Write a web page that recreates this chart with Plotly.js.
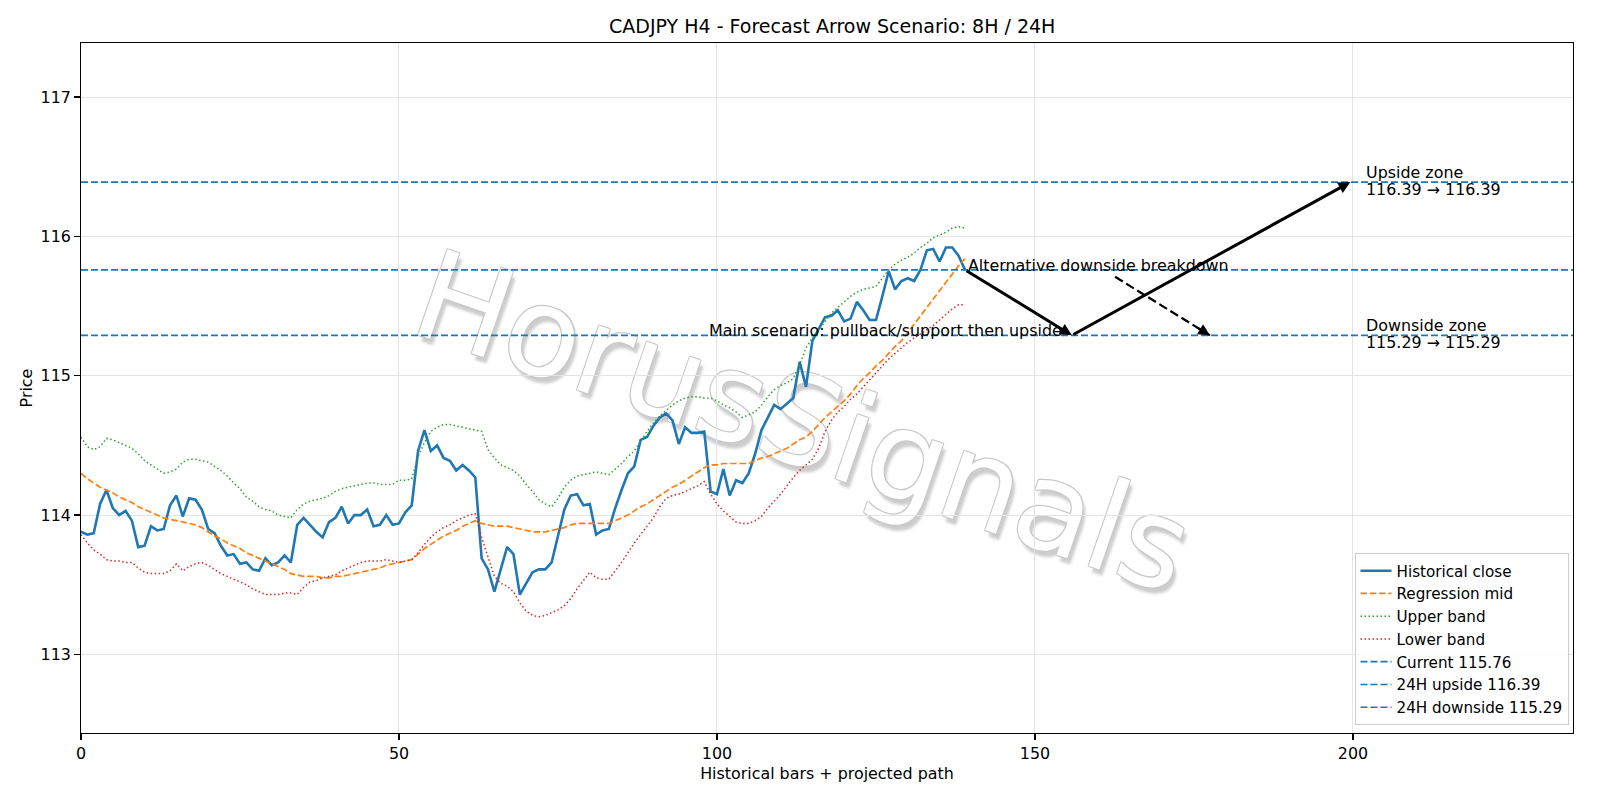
<!DOCTYPE html>
<html>
<head>
<meta charset="utf-8">
<script src="https://cdn.plot.ly/plotly-3.0.1.min.js"></script>
<style>
  html, body { margin: 0; padding: 0; background: #ffffff; }
  #chart { width: 1600px; height: 800px; }
</style>
</head>
<body>
<div id="chart"></div>
<script>
// CADJPY H4 closes with regression channel, plus a projected arrow scenario.
const histClose = [
  113.88, 113.86, 113.87, 114.08, 114.18, 114.05, 114.00, 114.03, 113.96, 113.77,
  113.78, 113.92, 113.89, 113.90, 114.07, 114.14, 113.99, 114.12, 114.11, 114.04,
  113.90, 113.87, 113.78, 113.71, 113.72, 113.65, 113.66, 113.61, 113.60, 113.69,
  113.64, 113.66, 113.71, 113.66, 113.93, 113.98, 113.93, 113.88, 113.84, 113.95,
  113.98, 114.06, 113.94, 114.00, 114.00, 114.04, 113.92, 113.93, 114.00, 113.93,
  113.94, 114.02, 114.07, 114.46, 114.61, 114.46, 114.50, 114.41, 114.39, 114.32,
  114.36, 114.32, 114.27, 113.69, 113.61, 113.45, 113.61, 113.77, 113.72, 113.43,
  113.51, 113.59, 113.61, 113.61, 113.66, 113.86, 114.04, 114.14, 114.15, 114.07,
  114.08, 113.86, 113.89, 113.90, 114.05, 114.18, 114.30, 114.35, 114.54, 114.56,
  114.64, 114.70, 114.73, 114.68, 114.51, 114.63, 114.59, 114.59, 114.60, 114.17,
  114.15, 114.33, 114.14, 114.25, 114.23, 114.30, 114.44, 114.61, 114.70, 114.79,
  114.76, 114.80, 114.84, 115.10, 114.92, 115.25, 115.34, 115.42, 115.43, 115.47,
  115.39, 115.41, 115.53, 115.47, 115.40, 115.40, 115.57, 115.75, 115.62, 115.68,
  115.70, 115.68, 115.76, 115.90, 115.91, 115.82, 115.92, 115.92, 115.86, 115.76
];

const regressionMid = [
  114.30, 114.26, 114.23, 114.20, 114.18, 114.16, 114.13, 114.11, 114.09, 114.06,
  114.04, 114.02, 114.00, 113.98, 113.97, 113.96, 113.95, 113.94, 113.93, 113.91,
  113.88, 113.85, 113.83, 113.80, 113.78, 113.76, 113.73, 113.71, 113.69, 113.67,
  113.65, 113.63, 113.61, 113.58, 113.57, 113.56, 113.56, 113.56, 113.55, 113.55,
  113.56, 113.56, 113.57, 113.58, 113.59, 113.60, 113.61, 113.62, 113.64, 113.65,
  113.66, 113.67, 113.68, 113.72, 113.76, 113.79, 113.82, 113.85, 113.87, 113.89,
  113.92, 113.94, 113.96, 113.94, 113.93, 113.92, 113.92, 113.92, 113.91, 113.90,
  113.89, 113.88, 113.88, 113.88, 113.89, 113.90, 113.91, 113.93, 113.94, 113.94,
  113.94, 113.94, 113.94, 113.94, 113.96, 113.98, 114.00, 114.03, 114.06, 114.08,
  114.11, 114.14, 114.17, 114.20, 114.22, 114.25, 114.28, 114.31, 114.34, 114.36,
  114.36, 114.37, 114.37, 114.37, 114.37, 114.37, 114.39, 114.41, 114.42, 114.44,
  114.46, 114.48, 114.51, 114.54, 114.56, 114.60, 114.65, 114.70, 114.74, 114.78,
  114.82, 114.87, 114.93, 114.98, 115.02, 115.07, 115.11, 115.16, 115.21, 115.25,
  115.31, 115.37, 115.43, 115.49, 115.55, 115.61, 115.67, 115.73, 115.79, 115.84
];

const upperBand = [
  114.56, 114.49, 114.47, 114.49, 114.55, 114.54, 114.52, 114.50, 114.48, 114.44,
  114.39, 114.36, 114.33, 114.30, 114.31, 114.33, 114.38, 114.40, 114.40, 114.39,
  114.38, 114.35, 114.32, 114.28, 114.23, 114.19, 114.13, 114.10, 114.06, 114.04,
  114.03, 114.00, 113.99, 113.98, 114.04, 114.08, 114.10, 114.11, 114.12, 114.14,
  114.17, 114.19, 114.20, 114.21, 114.22, 114.23, 114.23, 114.22, 114.22, 114.22,
  114.25, 114.25, 114.26, 114.42, 114.52, 114.60, 114.63, 114.65, 114.65, 114.64,
  114.63, 114.62, 114.61, 114.60, 114.47, 114.41, 114.36, 114.34, 114.32, 114.28,
  114.22, 114.17, 114.11, 114.08, 114.06, 114.12, 114.20, 114.25, 114.28, 114.29,
  114.30, 114.31, 114.30, 114.29, 114.33, 114.37, 114.42, 114.46, 114.53, 114.60,
  114.66, 114.71, 114.75, 114.79, 114.82, 114.84, 114.85, 114.85, 114.84, 114.84,
  114.82, 114.79, 114.77, 114.74, 114.70, 114.72, 114.74, 114.79, 114.85, 114.90,
  114.93, 114.95, 114.98, 115.08, 115.20, 115.27, 115.33, 115.39, 115.45, 115.49,
  115.53, 115.57, 115.60, 115.62, 115.63, 115.64, 115.70, 115.76, 115.80, 115.83,
  115.85, 115.88, 115.92, 115.95, 115.99, 116.01, 116.03, 116.06, 116.07, 116.06
];

const lowerBand = [
  113.86, 113.80, 113.75, 113.72, 113.68, 113.67, 113.67, 113.66, 113.66, 113.62,
  113.59, 113.58, 113.58, 113.58, 113.60, 113.65, 113.60, 113.63, 113.65, 113.66,
  113.64, 113.61, 113.58, 113.56, 113.54, 113.52, 113.50, 113.47, 113.45, 113.43,
  113.43, 113.43, 113.44, 113.44, 113.43, 113.48, 113.52, 113.53, 113.55, 113.56,
  113.57, 113.60, 113.62, 113.64, 113.66, 113.67, 113.67, 113.67, 113.68, 113.67,
  113.66, 113.67, 113.68, 113.73, 113.79, 113.84, 113.88, 113.91, 113.93, 113.96,
  113.98, 114.00, 114.01, 113.84, 113.70, 113.56, 113.51, 113.49, 113.45, 113.37,
  113.31, 113.28, 113.27, 113.28, 113.30, 113.32, 113.35, 113.40, 113.47, 113.53,
  113.59, 113.55, 113.54, 113.54, 113.60, 113.66, 113.73, 113.80, 113.86, 113.92,
  113.98, 114.06, 114.12, 114.14, 114.15, 114.17, 114.19, 114.21, 114.24, 114.15,
  114.08, 114.03, 113.99, 113.95, 113.94, 113.94, 113.96, 113.99, 114.05, 114.10,
  114.15, 114.21, 114.27, 114.32, 114.36, 114.40, 114.48, 114.60, 114.68, 114.74,
  114.78, 114.83, 114.87, 114.92, 114.97, 115.02, 115.07, 115.12, 115.16, 115.20,
  115.24, 115.27, 115.30, 115.33, 115.36, 115.40, 115.44, 115.48, 115.51, 115.51
];

const bars = histClose.map((_, i) => i);

// Reference levels
const currentPrice = 115.76;
const upside24h = 116.39;
const downside24h = 115.29;

// Projected path: current -> pullback support -> upside target
const mainPathX = [139, 155.8, 199.6];
const mainPathY = [115.76, 115.29, 116.39];
// Alternative breakdown leg
const altPathX = [162.6, 177.5];
const altPathY = [115.71, 115.29];

const xRange = [0, 234.6];
const yRange = [112.436, 117.388];
const xTicks = [0, 50, 100, 150, 200];
const yTicks = [113, 114, 115, 116, 117];

const FONT = 'DejaVu Sans, Liberation Sans, sans-serif';
const BLUE = '#1f77b4', ORANGE = '#ff7f0e', GREEN = '#2ca02c', RED = '#d62728';

function hLine(y, name) {
  return {
    x: xRange, y: [y, y], mode: 'lines', name: name,
    line: { color: BLUE, width: 1.7, dash: '7px,3px' }, hoverinfo: 'skip'
  };
}

const traces = [
  { x: bars, y: histClose, mode: 'lines', name: 'Historical close',
    line: { color: BLUE, width: 2.6 } },
  { x: bars, y: regressionMid, mode: 'lines', name: 'Regression mid',
    line: { color: ORANGE, width: 1.7, dash: '6.5px,2.8px' } },
  { x: bars, y: upperBand, mode: 'lines', name: 'Upper band',
    line: { color: GREEN, width: 1.5, dash: '1.5px,2.5px' } },
  { x: bars, y: lowerBand, mode: 'lines', name: 'Lower band',
    line: { color: RED, width: 1.5, dash: '1.5px,2.5px' } },
  hLine(currentPrice, 'Current ' + currentPrice.toFixed(2)),
  hLine(upside24h, '24H upside ' + upside24h.toFixed(2)),
  hLine(downside24h, '24H downside ' + downside24h.toFixed(2)),
  // dashed shaft of the alternative leg
  { x: altPathX, y: altPathY, mode: 'lines', showlegend: false, hoverinfo: 'skip',
    line: { color: '#000000', width: 2.2, dash: '9px,4px' } }
];

function arrow(x0, y0, x1, y1) {
  return {
    x: x1, y: y1, ax: x0, ay: y0, xref: 'x', yref: 'y', axref: 'x', ayref: 'y',
    text: '', showarrow: true, arrowhead: 2, arrowsize: 0.8, arrowwidth: 3,
    arrowcolor: '#000000', standoff: 0, startstandoff: 0
  };
}

const annotations = [];
for (let k = 0; k < mainPathX.length - 1; k++) {
  annotations.push(arrow(mainPathX[k], mainPathY[k], mainPathX[k + 1], mainPathY[k + 1]));
}
// head of the dashed alternative leg
{
  const n = altPathX.length - 1;
  const tx = altPathX[n], ty = altPathY[n];
  const sx = tx + (altPathX[n - 1] - tx) * 0.15, sy = ty + (altPathY[n - 1] - ty) * 0.15;
  const head = arrow(sx, sy, tx, ty);
  head.arrowwidth = 2.2;
  head.arrowsize = 1.05;
  annotations.push(head);
}

const txtFont = { family: FONT, size: 15.9, color: '#000000' };
annotations.push(
  { x: 154.5, y: 115.325, xref: 'x', yref: 'y', xanchor: 'right', yanchor: 'middle',
    text: 'Main scenario: pullback/support then upside', showarrow: false, font: txtFont },
  { x: 139.1, y: 115.79, xref: 'x', yref: 'y', xanchor: 'left', yanchor: 'middle',
    text: 'Alternative downside breakdown', showarrow: false, font: txtFont },
  { x: 201.8, y: 116.458, xref: 'x', yref: 'y', xanchor: 'left', yanchor: 'middle',
    text: 'Upside zone', showarrow: false, font: txtFont },
  { x: 201.8, y: 116.34, xref: 'x', yref: 'y', xanchor: 'left', yanchor: 'middle',
    text: upside24h.toFixed(2) + ' \u2192 ' + upside24h.toFixed(2), showarrow: false, font: txtFont },
  { x: 201.8, y: 115.359, xref: 'x', yref: 'y', xanchor: 'left', yanchor: 'middle',
    text: 'Downside zone', showarrow: false, font: txtFont },
  { x: 201.8, y: 115.242, xref: 'x', yref: 'y', xanchor: 'left', yanchor: 'middle',
    text: downside24h.toFixed(2) + ' \u2192 ' + downside24h.toFixed(2), showarrow: false, font: txtFont }
);

// Watermark, drawn beneath the data as a shape label
const shapes = [{
  type: 'rect', xref: 'x', yref: 'y', x0: 61.5, x1: 166.5, y0: 114.2, y1: 115.26,
  layer: 'below', line: { width: 0 }, fillcolor: 'rgba(0,0,0,0)',
  label: {
    text: 'HorusSignals', textangle: 19, textposition: 'middle center',
    font: {
      family: FONT, size: 124, color: '#ffffff',
      shadow: '-1px -1px 0 #c9c9c9, 1px -1px 0 #c9c9c9, -1px 1px 0 #c9c9c9, 1px 1px 0 #c9c9c9, 5px 5px 3px rgba(0,0,0,0.2)'
    }
  }
}];

const axisCommon = {
  showline: true, linecolor: '#000000', linewidth: 1.3, mirror: true,
  ticks: 'outside', ticklen: 5.6, tickwidth: 1.2, tickcolor: '#000000',
  showgrid: true, gridcolor: '#e4e4e4', gridwidth: 1, zeroline: false,
  tickfont: { family: FONT, size: 15.9, color: '#000000' }
};

const layout = {
  width: 1600, height: 800,
  paper_bgcolor: '#ffffff', plot_bgcolor: '#ffffff',
  margin: { l: 80.6, r: 26.5, t: 42.9, b: 67.3 },
  font: { family: FONT, color: '#000000' },
  title: {
    text: 'CADJPY H4 - Forecast Arrow Scenario: 8H / 24H',
    font: { family: FONT, size: 19, color: '#000000' },
    xref: 'paper', x: 0.5035, xanchor: 'center',
    yref: 'container', y: 1 - 26.5 / 800, yanchor: 'middle'
  },
  xaxis: Object.assign({}, axisCommon, {
    range: xRange, tickvals: xTicks, ticktext: xTicks.map(String),
    title: { text: 'Historical bars + projected path', standoff: 6,
             font: { family: FONT, size: 15.9, color: '#000000' } }
  }),
  yaxis: Object.assign({}, axisCommon, {
    range: yRange, tickvals: yTicks, ticktext: yTicks.map(String),
    title: { text: 'Price', standoff: 4,
             font: { family: FONT, size: 15.9, color: '#000000' } }
  }),
  legend: {
    x: 1 - 4.5 / 1492.9, y: 7.7 / 689.8, xanchor: 'right', yanchor: 'bottom',
    bgcolor: 'rgba(255,255,255,0.85)', bordercolor: '#cccccc', borderwidth: 1,
    font: { family: FONT, size: 15.2, color: '#000000' },
    itemwidth: 31, tracegroupgap: 0
  },
  showlegend: true,
  annotations: annotations,
  shapes: shapes
};

Plotly.newPlot('chart', traces, layout, { displayModeBar: false, staticPlot: true });
</script>
</body>
</html>
